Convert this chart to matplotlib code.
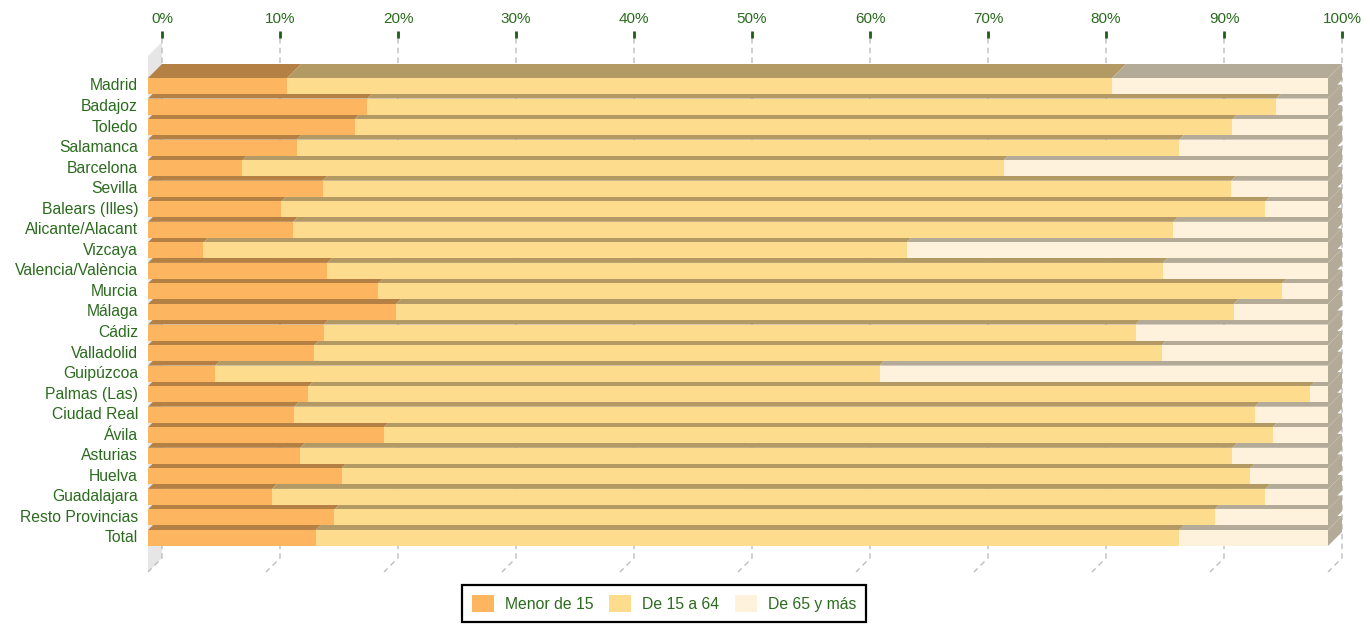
import matplotlib.pyplot as plt
from matplotlib.patches import Polygon, Patch

plt.rcParams['font.family'] = ['Liberation Sans', 'DejaVu Sans']

# datos (% de poblacion por grupo de edad)
provincias = ['Madrid', 'Badajoz', 'Toledo', 'Salamanca', 'Barcelona', 'Sevilla',
              'Balears (Illes)', 'Alicante/Alacant', 'Vizcaya', 'Valencia/València',
              'Murcia', 'Málaga', 'Cádiz', 'Valladolid', 'Guipúzcoa', 'Palmas (Las)',
              'Ciudad Real', 'Ávila', 'Asturias', 'Huelva', 'Guadalajara',
              'Resto Provincias', 'Total']
menor_15 = [11.8, 18.6, 17.5, 12.6, 8.0, 14.8, 11.3, 12.3, 4.7, 15.2, 19.5, 21.0,
            14.9, 14.1, 5.7, 13.6, 12.4, 20.0, 12.9, 16.4, 10.5, 15.8, 14.2]
de_15_64 = [69.9, 77.0, 74.4, 74.8, 64.5, 77.0, 83.4, 74.6, 59.6, 70.8, 76.6, 71.0,
            68.8, 71.8, 56.3, 84.9, 81.4, 75.3, 79.0, 77.0, 84.2, 74.6, 73.2]
de_65 = [18.3, 4.4, 8.1, 12.6, 27.5, 8.2, 5.3, 13.1, 35.7, 14.0, 3.9, 8.0,
         16.3, 14.1, 38.0, 1.5, 6.2, 4.7, 8.1, 6.6, 5.3, 9.6, 12.6]
series = ['Menor de 15', 'De 15 a 64', 'De 65 y más']
ticks = [0, 10, 20, 30, 40, 50, 60, 70, 80, 90, 100]

colores = ['#FDB55F', '#FEDC8E', '#FEF2DC']
colores_techo = ['#B58043', '#B39A64', '#B3AA98']
verde = '#2B6B1E'

W, H = 1364, 625
fig = plt.figure(figsize=(W / 100, H / 100), dpi=100)
ax = fig.add_axes([0, 0, 1, 1])

# escala: 0% -> px 148, 100% -> px 1328 ; fila 0 -> px 86
sx = 11.8
sy = 20.545
ax.set_xlim(-148 / sx, (W - 148) / sx)
ax.set_ylim((H - 86) / sy, -86 / sy)
ax.axis('off')


def fila(px):
    return (px - 86) / sy


dx = 14 / sx   # profundidad 3D
dy = 14 / sy
alto = 16 / sy
n = len(provincias)

# pared izquierda
ax.add_patch(Polygon([(0, fila(56)), (dx, fila(42)), (dx, fila(558)), (0, fila(572))],
                     closed=True, facecolor='#E6E6E6', edgecolor='none', zorder=1))

# rejilla, marcas y etiquetas del eje superior
for t in ticks:
    ax.plot([t + dx, t + dx, t], [fila(38), fila(558), fila(572)], color='#BDBDBD',
            lw=1, ls=(0, (4, 3)), zorder=2)
    ax.plot([t + dx, t + dx], [fila(31), fila(38)], color='#1B5E14', lw=2,
            solid_capstyle='butt', zorder=2)
    ax.text(t + dx, fila(19), f'{t}%', ha='center', va='center', fontsize=11,
            color=verde)

# caras superiores y lateral
for i in range(n):
    vals = [menor_15[i], de_15_64[i], de_65[i]]
    top = i - alto / 2
    bot = i + alto / 2
    izq = 0
    for k, v in enumerate(vals):
        der = izq + v
        ax.add_patch(Polygon([(izq, top), (der, top), (der + dx, top - dy), (izq + dx, top - dy)],
                             closed=True, facecolor=colores_techo[k], edgecolor='none', zorder=3))
        izq = der
    ax.add_patch(Polygon([(izq, top), (izq + dx, top - dy), (izq + dx, bot - dy), (izq, bot)],
                         closed=True, facecolor=colores_techo[2], edgecolor='none', zorder=3))

# caras frontales
y = list(range(n))
izq = [0] * n
for k, vals in enumerate([menor_15, de_15_64, de_65]):
    ax.barh(y, vals, left=izq, height=alto, color=colores[k], edgecolor='none',
            zorder=4)
    izq = [a + b for a, b in zip(izq, vals)]

for i, p in enumerate(provincias):
    ax.text(-10 / sx, i, p, ha='right', va='center', fontsize=11.3, color=verde)

handles = [Patch(facecolor=c, edgecolor='none', label=s) for c, s in zip(colores, series)]
leg = fig.legend(handles=handles, loc='upper left', bbox_to_anchor=(462 / W, 1 - 585 / H),
                 ncol=3, fontsize=11.3, labelcolor=verde, frameon=True, fancybox=False,
                 edgecolor='black', framealpha=1, borderaxespad=0, borderpad=0.64,
                 handlelength=1.4, handleheight=1.27, handletextpad=0.7,
                 columnspacing=1.0)
leg.get_frame().set_linewidth(1.6)

fig.savefig('out.png', dpi=100)
